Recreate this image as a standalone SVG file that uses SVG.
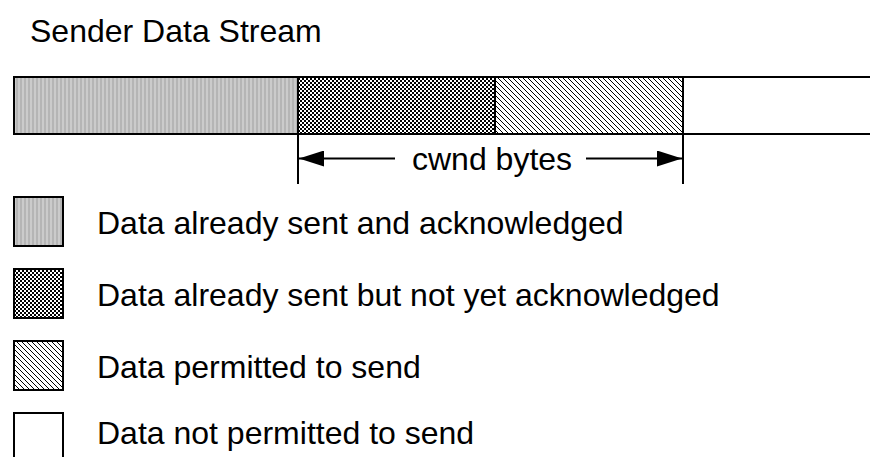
<svg xmlns="http://www.w3.org/2000/svg" width="870" height="457" viewBox="0 0 870 457">
<style>
text{font-family:"Liberation Sans",Arial,sans-serif;font-size:32px;fill:#000}
.box{stroke:#000;stroke-width:2}
.ln{stroke:#000;stroke-width:2;fill:none}
</style>
<defs>
<pattern id="pStripe" width="4" height="4" patternUnits="userSpaceOnUse">
<rect width="4" height="4" fill="#b5b5b5"/>
<rect x="2" width="2" height="4" fill="#cbcbcb"/>
</pattern>
<pattern id="pCheck" width="4" height="4" patternUnits="userSpaceOnUse">
<rect width="4" height="4" fill="#fff"/>
<rect x="0" y="0" width="2" height="2" fill="#000"/>
<rect x="2" y="2" width="2" height="2" fill="#000"/>
</pattern>
<pattern id="pDiag" width="5" height="5" patternUnits="userSpaceOnUse">
<rect width="5" height="5" fill="#fff"/>
<path d="M-1,-1 L6,6 M-3.5,1.5 L1.5,6.5 M1.5,-3.5 L6.5,1.5" stroke="#000" stroke-width="1"/>
</pattern>
<marker id="ah" viewBox="0 0 25 16" refX="25" refY="8" markerWidth="25" markerHeight="16" markerUnits="userSpaceOnUse" orient="auto-start-reverse">
<path d="M0,0 L25,8 L0,16 Z" fill="#000"/>
</marker>
</defs>
<text x="30" y="42">Sender Data Stream</text>
<g id="stream">
<rect class="box" x="14" y="77" width="284" height="57" fill="url(#pStripe)"/>
<rect class="box" x="298" y="77" width="197" height="57" fill="url(#pCheck)"/>
<rect class="box" x="495" y="77" width="188" height="57" fill="url(#pDiag)"/>
<rect class="box" x="683" y="77" width="200" height="57" fill="#fff"/>
</g>
<g id="connectors">
<line class="ln" x1="298" y1="134" x2="298" y2="184"/>
<line class="ln" x1="683" y1="134" x2="683" y2="184"/>
<line class="ln" x1="395" y1="158.5" x2="299" y2="158.5" marker-end="url(#ah)"/>
<line class="ln" x1="586" y1="158.5" x2="682" y2="158.5" marker-end="url(#ah)"/>
</g>
<text x="412" y="170">cwnd bytes</text>
<g id="legend-acked">
<rect class="box" x="14" y="197" width="49" height="49" fill="url(#pStripe)"/>
<text x="97" y="234">Data already sent and acknowledged</text>
</g>
<g id="legend-unacked">
<rect class="box" x="14" y="269" width="49" height="49" fill="url(#pCheck)"/>
<text x="97" y="306">Data already sent but not yet acknowledged</text>
</g>
<g id="legend-permitted">
<rect class="box" x="14" y="341" width="49" height="49" fill="url(#pDiag)"/>
<text x="97" y="378">Data permitted to send</text>
</g>
<g id="legend-not-permitted">
<rect class="box" x="14" y="413" width="49" height="49" fill="#fff"/>
<text x="97" y="444">Data not permitted to send</text>
</g>
</svg>
